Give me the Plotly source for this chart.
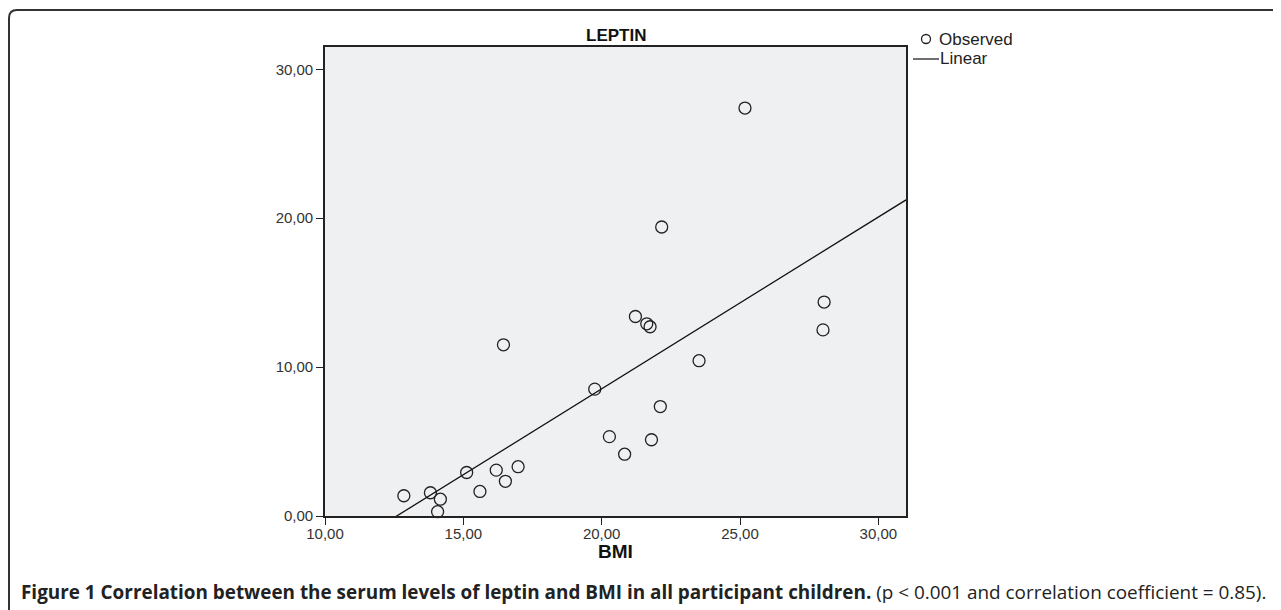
import numpy as np
import plotly.graph_objects as go

# Data (BMI vs serum leptin)
bmi = [12.85, 13.81, 14.17, 14.07, 15.12, 15.60, 16.19, 16.52, 16.98, 16.45,
       19.75, 20.28, 20.83, 21.80, 22.12, 23.52, 25.18, 22.17, 21.22, 21.63,
       21.75, 28.04, 28.00]
leptin = [1.36, 1.56, 1.13, 0.29, 2.92, 1.65, 3.08, 2.33, 3.31, 11.50,
          8.52, 5.33, 4.15, 5.12, 7.35, 10.43, 27.40, 19.41, 13.40, 12.91,
          12.71, 14.37, 12.50]

x_range = [10, 31]
y_range = [0, 31.5]
x_ticks = [10, 15, 20, 25, 30]
x_tick_labels = ["10,00", "15,00", "20,00", "25,00", "30,00"]
y_ticks = [0, 10, 20, 30]
y_tick_labels = ["0,00", "10,00", "20,00", "30,00"]
legend_names = ["Observed", "Linear"]

# Linear fit
slope, intercept = np.polyfit(bmi, leptin, 1)
fit_x = np.array(x_range, dtype=float)
fit_y = slope * fit_x + intercept

OFF = 8  # page body margin
W, H = 1281 - OFF, 610 - OFF
ML, MT = 325 - OFF, 47 - OFF
PW, PH = 581, 469
MR, MB = W - ML - PW, H - MT - PH


def px(x):
    return (x - OFF - ML) / PW


def py(y):
    return 1 - (y - OFF - MT) / PH


ink = "#222222"
fig = go.Figure()
fig.add_trace(go.Scatter(
    x=bmi, y=leptin, mode="markers", name=legend_names[0],
    marker=dict(symbol="circle-open", size=12, color=ink,
                line=dict(width=1.3, color=ink)),
    cliponaxis=False, showlegend=False,
))
fig.add_trace(go.Scatter(
    x=fit_x, y=fit_y, mode="lines", name=legend_names[1],
    line=dict(color="#111111", width=1.3), showlegend=False,
))

font_main = "Liberation Sans, Arial, sans-serif"

axis_common = dict(
    showgrid=False, zeroline=False, showline=True, mirror=True,
    linecolor=ink, linewidth=1.6,
    ticks="outside", ticklen=7, tickwidth=1.2, tickcolor=ink,
    tickfont=dict(family=font_main, size=15, color="#333333"),
)

fig.update_layout(
    width=W, height=H,
    margin=dict(l=ML, r=MR, t=MT, b=MB, autoexpand=False),
    paper_bgcolor="white",
    plot_bgcolor="#eff0f2",
    showlegend=False,
    xaxis=dict(range=x_range, tickvals=x_ticks, ticktext=x_tick_labels,
               ticklabelstandoff=-4, **axis_common),
    yaxis=dict(range=y_range, tickvals=y_ticks, ticktext=y_tick_labels, **axis_common),
)

leg_y = [39, 59]
annotations = [
    dict(text="<b>LEPTIN</b>", x=0.5, y=py(36), xref="paper", yref="paper",
         xanchor="center", yanchor="middle", showarrow=False,
         font=dict(family="Liberation Sans Narrow, Arial Narrow, Liberation Sans, Arial",
                   size=17, color="#111111")),
    dict(text="<b>BMI</b>", x=0.5, y=py(551), xref="paper", yref="paper",
         xanchor="center", yanchor="middle", showarrow=False, borderpad=0,
         font=dict(family=font_main, size=19, color="#111111")),
    dict(text=legend_names[0], x=px(938), y=py(leg_y[0]), xref="paper", yref="paper",
         xanchor="left", yanchor="middle", showarrow=False, borderpad=0,
         font=dict(family=font_main, size=17, color=ink)),
    dict(text=legend_names[1], x=px(939), y=py(leg_y[1]), xref="paper", yref="paper",
         xanchor="left", yanchor="middle", showarrow=False, borderpad=0,
         font=dict(family=font_main, size=17, color=ink)),
    dict(text="<b>Figure 1 Correlation between the serum levels of leptin and BMI in all participant children.</b>"
              " (p < 0.001 and correlation coefficient = 0.85).",
         x=px(19), y=py(592), xref="paper", yref="paper",
         xanchor="left", yanchor="middle", showarrow=False,
         font=dict(family="Open Sans, Noto Sans, sans-serif", size=18.9, color="#222222")),
]
fig.update_layout(annotations=annotations)

# Legend symbols (drawn as shapes)
rad = 4.5
fig.add_shape(type="circle", xref="paper", yref="paper",
              x0=px(926 - rad), x1=px(926 + rad), y0=py(leg_y[0] + rad), y1=py(leg_y[0] - rad),
              line=dict(color=ink, width=1.3))
fig.add_shape(type="line", xref="paper", yref="paper",
              x0=px(913), x1=px(939), y0=py(leg_y[1]), y1=py(leg_y[1]),
              line=dict(color=ink, width=1.3))

# Outer rounded frame (top-left corner rounded)
r = 8
x0, y0 = 9, 10
path = (f"M {px(x0)} {py(H + 20)} L {px(x0)} {py(y0 + r)} "
        f"Q {px(x0)} {py(y0)} {px(x0 + r)} {py(y0)} L {px(W + 30)} {py(y0)}")
fig.add_shape(type="path", path=path, xref="paper", yref="paper",
              line=dict(color="#333333", width=2))

fig.write_html("out.html")
